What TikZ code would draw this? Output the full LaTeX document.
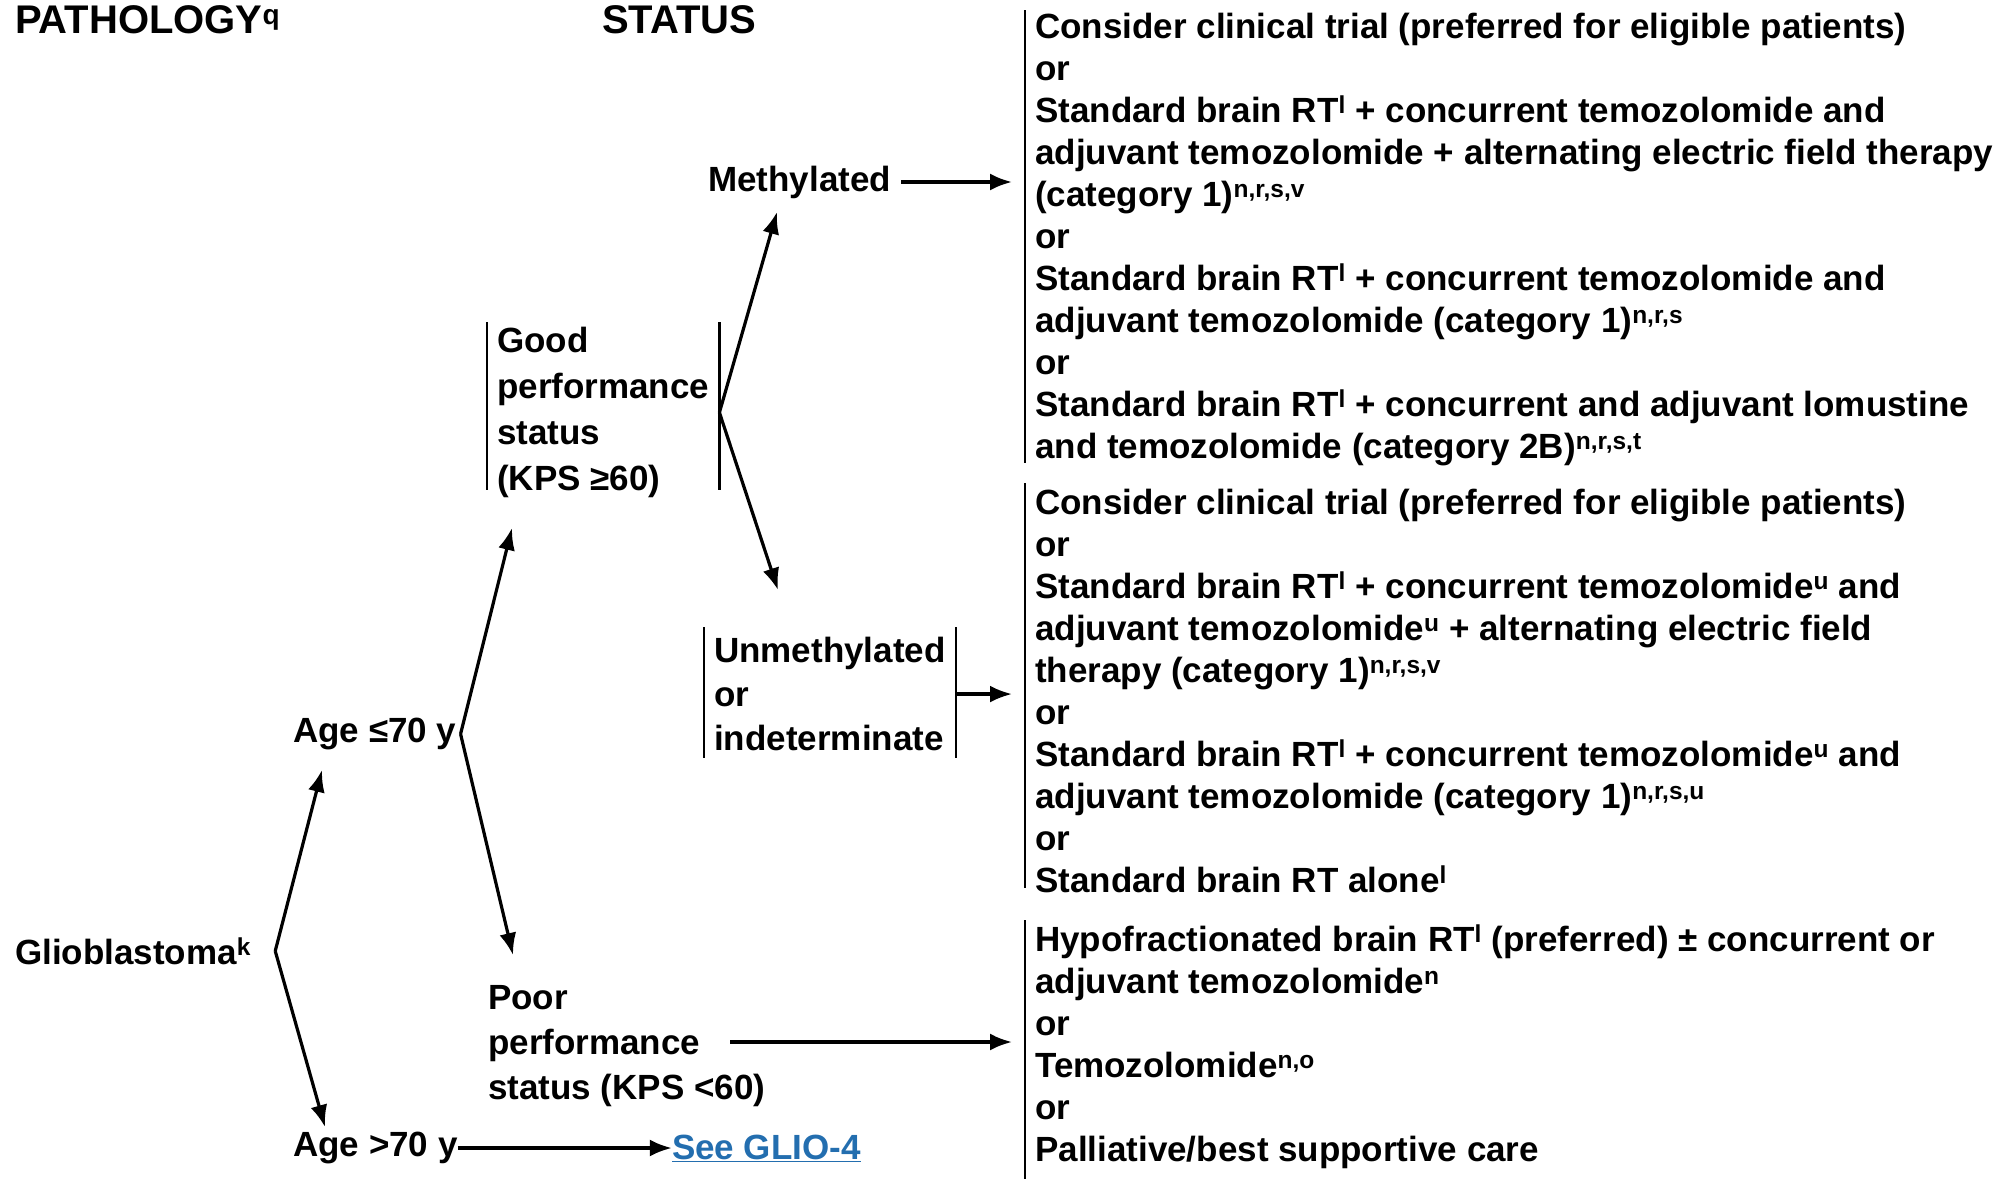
\documentclass[tikz,border=0pt]{standalone}
\usepackage{fontspec}
\setmainfont{Liberation Sans}
\usepackage{tikz}
\usetikzlibrary{positioning}
\usetikzlibrary{arrows.meta,calc}
\tikzset{line/.style={draw, line width=3.2pt, -{Latex[length=22pt,width=17pt]}}}
\definecolor{linkblue}{RGB}{35,110,175}

\begin{document}
\begin{tikzpicture}[x=1pt, y=-1pt]
\tikzstyle{heading} = [inner sep=0pt, anchor=west, font=\bfseries\fontsize{40}{42}\selectfont]
\tikzstyle{term} = [inner sep=0pt, anchor=west, font=\bfseries\fontsize{35}{42}\selectfont]
\tikzstyle{statusbox} = [inner xsep=10pt, inner ysep=0pt, anchor=north west, align=left, font=\bfseries\fontsize{35}{46}\selectfont]
\tikzstyle{optionbox} = [inner sep=0pt, anchor=north west, align=left, font=\bfseries\fontsize{35}{42}\selectfont]
\tikzstyle{bar} = [draw, line width=2.6pt]
\useasboundingbox (0,0) rectangle (2008,1183);

% blocks
    % headers
    \node [heading] (pathology) at (15,20) {PATHOLOGY\textsuperscript{q}};
    \node [heading] (status) at (602,20) {STATUS};
    % left column
    \node [term] (glio) at (15,951) {Glioblastoma\textsuperscript{k}};
    \node [term] (young) at (293,734) {Age ≤70 y};
    \node [term] (old) at (293,1148) {Age >70 y};
    \node [term, right=214pt of old, text=linkblue] (glio4) {\underline{See GLIO-4}};
    % status
    \node [statusbox] (good) at (487,327) {Good\\performance\\status\\(KPS ≥60)};
    \node [statusbox, font=\bfseries\fontsize{35}{45}\selectfont] (poor) at (478,985) {Poor\\performance\\status (KPS <60)};
    \node [term] (meth) at (708,182) {Methylated};
    \node [statusbox, font=\bfseries\fontsize{35}{44}\selectfont] (unmeth) at (704,637) {Unmethylated\\or\\indeterminate};
    % options
    \node [optionbox] (opt1) at (1035,13) {Consider clinical trial (preferred for eligible patients)\\or\\Standard brain RT\textsuperscript{l} + concurrent temozolomide and\\adjuvant temozolomide + alternating electric field therapy\\(category 1)\textsuperscript{n,r,s,v}\\or\\Standard brain RT\textsuperscript{l} + concurrent temozolomide and\\adjuvant temozolomide (category 1)\textsuperscript{n,r,s}\\or\\Standard brain RT\textsuperscript{l} + concurrent and adjuvant lomustine\\and temozolomide (category 2B)\textsuperscript{n,r,s,t}};
    \node [optionbox] (opt2) at (1035,489) {Consider clinical trial (preferred for eligible patients)\\or\\Standard brain RT\textsuperscript{l} + concurrent temozolomide\textsuperscript{u} and\\adjuvant temozolomide\textsuperscript{u} + alternating electric field\\therapy (category 1)\textsuperscript{n,r,s,v}\\or\\Standard brain RT\textsuperscript{l} + concurrent temozolomide\textsuperscript{u} and\\adjuvant temozolomide (category 1)\textsuperscript{n,r,s,u}\\or\\Standard brain RT alone\textsuperscript{l}};
    \node [optionbox] (opt3) at (1035,925) {Hypofractionated brain RT\textsuperscript{l} (preferred) ± concurrent or\\adjuvant temozolomide\textsuperscript{n}\\or\\Temozolomide\textsuperscript{n,o}\\or\\Palliative/best supportive care};
    % forks
    \coordinate (glio fork) at ($(glio.east)+(24,0)$);
    \coordinate (young fork) at ($(young.east)+(4,0)$);
    \coordinate (poor out) at ($(poor.north west)+(252,57)$);

% bars
    \draw [bar] ($(good.north west)+(0,-5)$) -- ($(good.south west)+(0,-8)$);
    \draw [bar] ($(good.north east)+(0,-5)$) -- ($(good.south east)+(0,-8)$);
    \draw [bar] ($(unmeth.north west)+(0,-10)$) -- ($(unmeth.south west)+(0,7)$);
    \draw [bar] ($(unmeth.north east)+(0,-10)$) -- ($(unmeth.south east)+(0,7)$);
    \draw [bar] ($(opt1.north west)+(-10,-3)$) -- ($(opt1.south west)+(-10,-3)$);
    \draw [bar] ($(opt2.north west)+(-10,-6)$) -- ($(opt2.south west)+(-10,-5)$);
    \draw [bar] ($(opt3.north west)+(-10,-5)$) -- ($(opt3.south west)+(-10,10)$);

% arrows
    % glioblastoma
    \path [line] (glio fork) -- ($(young.west)+(29,36)$);
    \path [line] (glio fork) -- ($(old.west)+(32,-21)$);
    % age
    \path [line] (young fork) -- ($(good.south west)+(25,30)$);
    \path [line] (young fork) -- ($(poor.north west)+(35,-30)$);
    \path [line] (old.east) -- (glio4.west);
    % status
    \path [line] (good.east) -- ($(meth.west)+(69,30)$);
    \path [line] (good.east) -- ($(unmeth.north west)+(74,-47)$);
    \path [line, shorten <=10pt, shorten >=23pt] (meth.east) -- (meth.east -| opt1.west);
    \path [line, shorten >=23pt] (unmeth.east) -- (unmeth.east -| opt2.west);
    \path [line, shorten >=23pt] (poor out) -- (poor out -| opt3.west);
\end{tikzpicture}
\end{document}
